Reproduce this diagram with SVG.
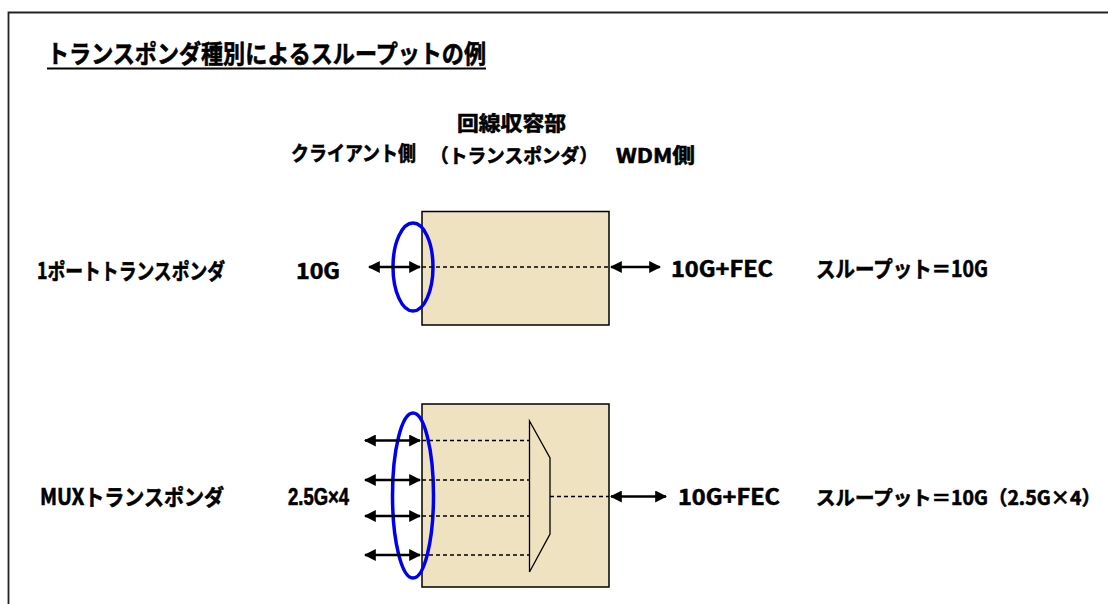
<svg xmlns="http://www.w3.org/2000/svg" width="1108" height="604" viewBox="0 0 1108 604">
<style>
text{font-family:"Noto Sans CJK JP","Liberation Sans",sans-serif;font-weight:bold;fill:#000;stroke:#000;stroke-width:0.6;font-size:22px}
.ttl{font-size:25px}
.hd{font-size:20.5px}
.hp{font-size:19px}
.sm{font-size:19.5px}
.lat{font-family:"Liberation Sans","Noto Sans CJK JP",sans-serif;font-size:23px}
.box{fill:#efe2c0;stroke:#000;stroke-width:1.5}
.dash{stroke:#000;stroke-width:1.3;stroke-dasharray:4 3;fill:none}
.arr{stroke:#000;stroke-width:2.5;fill:none;marker-start:url(#ah);marker-end:url(#ah)}
.ell{fill:none;stroke:#0000ee;stroke-width:3.5}
</style>
<defs>
<marker id="ah" viewBox="0 0 10 10" refX="9" refY="5" markerWidth="4.8" markerHeight="4.8" orient="auto-start-reverse" markerUnits="strokeWidth">
<path d="M0,0 L10,5 L0,10 Z" fill="#000"/>
</marker>
</defs>
<rect width="1108" height="604" fill="#fff"/>
<path d="M8.5,604 V12.5 H1108" fill="none" stroke="#222" stroke-width="1.8"/>
<g id="title">
<text class="ttl" x="47" y="63" textLength="439" lengthAdjust="spacingAndGlyphs">トランスポンダ種別によるスループットの例</text>
<line x1="47" y1="68.5" x2="486" y2="68.5" stroke="#000" stroke-width="1.8"/>
</g>
<g id="headers">
<text class="hd" x="457" y="131" textLength="109" lengthAdjust="spacingAndGlyphs">回線収容部</text>
<text class="hd" x="291" y="161" textLength="125" lengthAdjust="spacingAndGlyphs">クライアント側</text>
<text class="hp" x="430" y="163" textLength="168" lengthAdjust="spacingAndGlyphs">（トランスポンダ）</text>
<text class="hd" x="616" y="163" textLength="79" lengthAdjust="spacingAndGlyphs">WDM側</text>
</g>
<g id="transponder1">
<rect class="box" x="422" y="211.5" width="187" height="113.5"/>
<ellipse class="ell" cx="413" cy="267" rx="20" ry="44"/>
<text x="37" y="279" textLength="188" lengthAdjust="spacingAndGlyphs">1ポートトランスポンダ</text>
<text x="296" y="279" textLength="44" lengthAdjust="spacingAndGlyphs">10G</text>
<text x="671" y="277" textLength="102" lengthAdjust="spacingAndGlyphs">10G+FEC</text>
<text x="816" y="277" textLength="172" lengthAdjust="spacingAndGlyphs">スループット＝10G</text>
</g>
<g id="transponder2">
<rect class="box" x="422" y="404" width="187" height="183"/>
<path d="M529.5,421 L550,458 L550,534 L529.5,572 Z" fill="none" stroke="#000" stroke-width="1.3"/>
<ellipse class="ell" cx="413" cy="495.5" rx="20.5" ry="82.5"/>
<text x="40" y="505" textLength="184" lengthAdjust="spacingAndGlyphs">MUXトランスポンダ</text>
<text class="lat" x="288" y="505" textLength="61" lengthAdjust="spacingAndGlyphs">2.5G×4</text>
<text x="678" y="505" textLength="102" lengthAdjust="spacingAndGlyphs">10G+FEC</text>
<text class="sm" x="816" y="505" textLength="285" lengthAdjust="spacingAndGlyphs">スループット＝10G（2.5G×4）</text>
</g>
<g id="connectors">
<line class="dash" x1="422" y1="267" x2="609" y2="267"/>
<line class="arr" x1="369" y1="267" x2="420" y2="267"/>
<line class="arr" x1="611" y1="267" x2="660" y2="267"/>
<line class="dash" x1="422" y1="440.5" x2="529.5" y2="440.5"/>
<line class="dash" x1="422" y1="480" x2="529.5" y2="480"/>
<line class="dash" x1="422" y1="516" x2="529.5" y2="516"/>
<line class="dash" x1="422" y1="555" x2="529.5" y2="555"/>
<line class="dash" x1="550" y1="496.5" x2="609" y2="496.5"/>
<line class="arr" x1="365" y1="440.5" x2="420" y2="440.5"/>
<line class="arr" x1="365" y1="480" x2="420" y2="480"/>
<line class="arr" x1="365" y1="516" x2="420" y2="516"/>
<line class="arr" x1="365" y1="555" x2="420" y2="555"/>
<line class="arr" x1="611" y1="496.5" x2="666" y2="496.5"/>
</g>
</svg>
